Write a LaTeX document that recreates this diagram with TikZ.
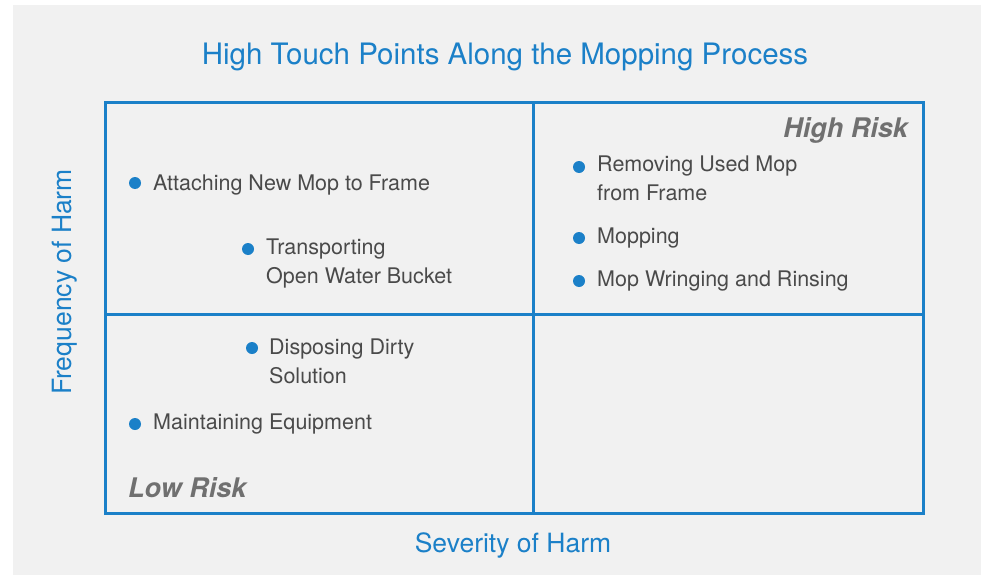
\documentclass[tikz,border=0pt]{standalone}
\usepackage{fontspec}
\setmainfont{TeX Gyre Heros}
\usepackage{tikz}
\usetikzlibrary{calc}

\definecolor{hrblue}{HTML}{1B80C8}
\definecolor{hrback}{HTML}{F1F1F1}
\definecolor{hrtext}{HTML}{4A4A4A}
\definecolor{hrrisk}{HTML}{707070}

\tikzset{
  frameline/.style={draw=hrblue,line width=3pt},
  itemtext/.style={anchor=base west,align=left,inner sep=0pt,text=hrtext,
    font=\fontsize{21.5}{28.5}\selectfont},
  itemdot/.style={fill=hrblue},
  risktext/.style={inner sep=0pt,text=hrrisk,font=\fontsize{27}{30}\selectfont\bfseries\itshape},
  axistext/.style={inner sep=0pt,text=hrblue,font=\fontsize{26.5}{30}\selectfont}
}

\begin{document}
\begin{tikzpicture}[x=1pt,y=-1pt]
                    \useasboundingbox (0,0) rectangle (981,575);
                    \fill[hrback] (13,5) rectangle (981,575);

                    \coordinate (A) at (105,103);
                    \coordinate (B) at (923,103);
                    \coordinate (C) at (105,513);
                    \coordinate (D) at (923,513);

                    \draw[frameline] (A) -- (B) -- (D) -- (C) -- cycle;

                    \coordinate (M) at ($(A)!0.5!(C)+(-1,6)$);
                    \coordinate (N) at ($(B)!0.5!(D)+(-1,6)$);
                    \coordinate (P) at (533,103);
                    \coordinate (Q) at (533,513);

                    \draw[frameline] (M) -- (N);
                    \draw[frameline] (P) -- (Q);

                    \node[axistext,font=\fontsize{29.5}{32}\selectfont,anchor=base] (title) at (505,65) {High Touch Points Along the Mopping Process};
                    \node[axistext,anchor=base] (sev) at (513,552) {Severity of Harm};
                    \node[axistext,rotate=90] (freq) at (65,282) {Frequency of Harm};

                    \node[risktext,anchor=base east] (high) at (908,137) {High Risk};
                    \node[risktext,anchor=base west] (low) at (128,497) {Low Risk};

                    % upper left
                    \fill[itemdot] (135,183) circle (6);
                    \node[itemtext] (attach) at (153,190) {Attaching New Mop to Frame};
                    \fill[itemdot] (248,249) circle (6);
                    \node[itemtext] (transport) at (266,283) {Transporting\\Open Water Bucket};

                    % upper right
                    \fill[itemdot] (579,167) circle (6);
                    \node[itemtext] (remove) at (597,200) {Removing Used Mop\\from Frame};
                    \fill[itemdot] (579,238) circle (6);
                    \node[itemtext] (mopping) at (597,243) {Mopping};
                    \fill[itemdot] (579,281) circle (6);
                    \node[itemtext] (wring) at (597,286) {Mop Wringing and Rinsing};

                    % lower left
                    \fill[itemdot] (252,348) circle (6);
                    \node[itemtext] (dispose) at (269,383) {Disposing Dirty\\Solution};
                    \fill[itemdot] (135,424) circle (6);
                    \node[itemtext] (maintain) at (153,429) {Maintaining Equipment};
                \end{tikzpicture}
\end{document}
